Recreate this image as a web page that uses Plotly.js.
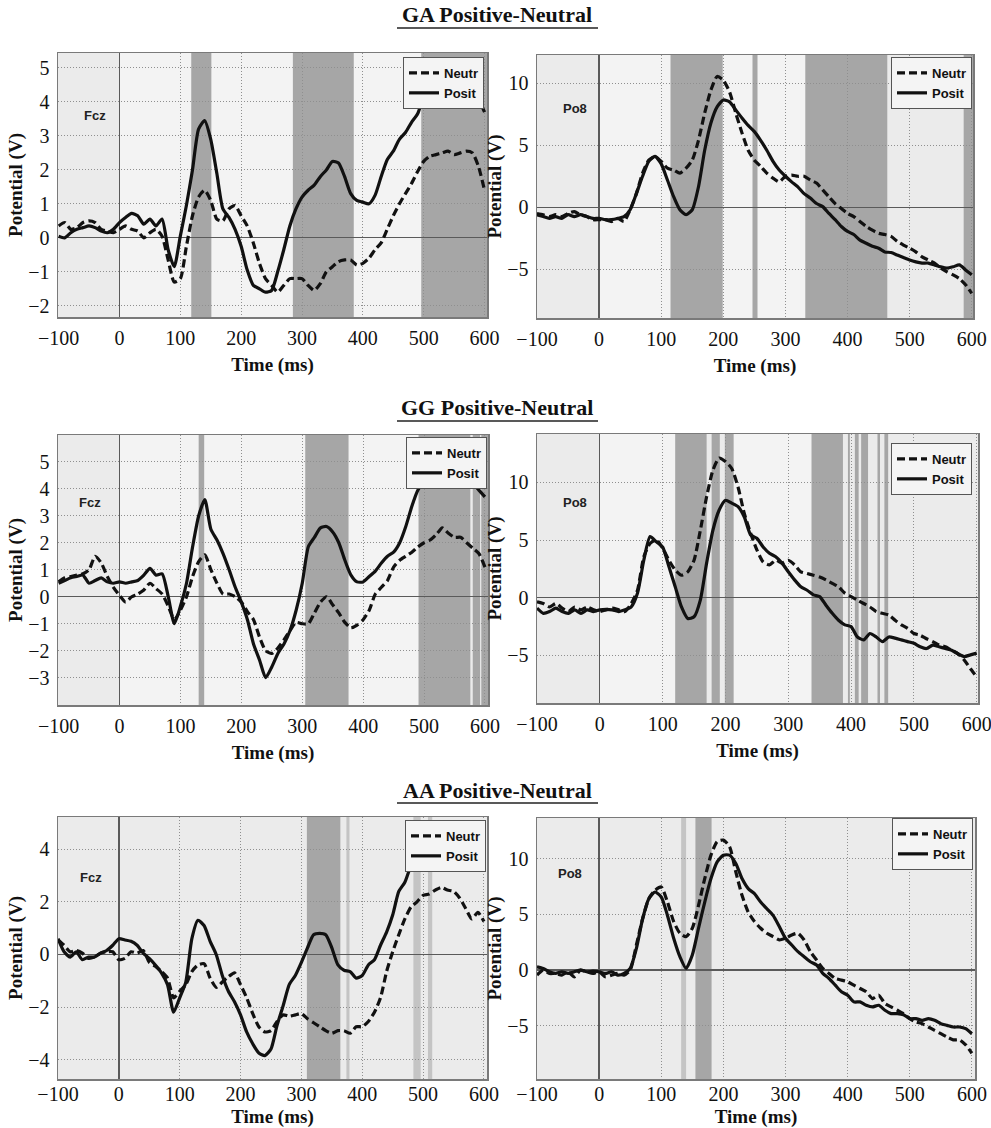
<!DOCTYPE html>
<html>
<head>
<meta charset="utf-8">
<script src="https://cdn.plot.ly/plotly-3.0.1.min.js"></script>
<style>html,body{margin:0;padding:0;background:#fff;}#chart{width:991px;height:1128px;}</style>
</head>
<body>
<div id="chart"></div>
<script>
// ---------------- DATA ----------------
const timeMs = [-100,-90,-80,-70,-60,-50,-40,-30,-20,-10,0,10,20,30,40,50,60,70,80,90,100,110,120,130,140,150,160,170,180,190,200,210,220,230,240,250,260,270,280,290,300,310,320,330,340,350,360,370,380,390,400,410,420,430,440,450,460,470,480,490,500,510,520,530,540,550,560,570,580,590,600];

const sectionTitles = ["GA Positive-Neutral", "GG Positive-Neutral", "AA Positive-Neutral"];
const channelNames = ["Fcz", "Po8", "Fcz", "Po8", "Fcz", "Po8"];
const seriesNames = ["Neutr", "Posit"];
const xTickVals = [-100,0,100,200,300,400,500,600];

// GA – Fcz
const gaFczNeutr = [0.35,0.45,0.25,0.3,0.45,0.5,0.45,0.25,0.2,0.15,0.25,0.35,0.25,0.2,0,0.15,0.25,0.05,-0.65,-1.3,-1.2,-0.25,0.65,1.2,1.4,1.1,0.55,0.5,0.85,0.95,0.65,0.35,-0.15,-0.75,-1.2,-1.4,-1.6,-1.4,-1.2,-1.2,-1.2,-1.4,-1.55,-1.35,-1.0,-0.85,-0.7,-0.65,-0.65,-0.8,-0.75,-0.6,-0.35,-0.15,0.25,0.65,1.0,1.3,1.6,1.95,2.25,2.4,2.45,2.5,2.55,2.45,2.5,2.55,2.5,2.1,1.4];
const gaFczPosit = [0.05,0,0.15,0.25,0.3,0.35,0.3,0.2,0.15,0.25,0.45,0.6,0.72,0.65,0.4,0.55,0.35,0.55,-0.35,-0.85,0.05,0.95,2.0,3.2,3.45,2.9,1.9,0.85,0.6,0.25,-0.25,-0.95,-1.4,-1.5,-1.6,-1.55,-1.0,-0.35,0.35,0.85,1.2,1.4,1.55,1.8,2.0,2.25,2.2,1.8,1.3,1.1,1.05,1.0,1.25,1.8,2.3,2.55,2.9,3.1,3.4,3.65,4.15,4.45,4.7,4.9,5.0,5.0,4.9,4.8,4.5,4.1,3.7];
// GA – Po8
const gaPo8Neutr = [-0.5,-0.6,-0.75,-0.6,-0.75,-0.5,-0.35,-0.6,-0.75,-1.0,-1.0,-1.0,-1.15,-0.9,-1.15,-0.2,1.1,2.75,3.8,4.1,3.7,3.15,3.0,2.75,3.15,3.8,5.4,7.6,9.45,10.55,10.25,9.3,7.6,6.0,4.6,3.8,3.3,2.75,2.35,2.05,2.5,2.6,2.5,2.5,2.2,1.95,1.4,0.85,0.3,-0.1,-0.5,-0.75,-1.15,-1.55,-1.85,-2.1,-2.2,-2.35,-2.75,-3.05,-3.3,-3.6,-4.0,-4.25,-4.5,-4.9,-5.2,-5.45,-5.75,-6.25,-6.95];
const gaPo8Posit = [-0.6,-0.75,-0.9,-0.75,-0.9,-0.6,-0.75,-0.6,-0.75,-0.9,-0.9,-1.0,-1.0,-0.9,-0.75,-0.2,1.1,2.5,3.7,4.1,3.5,2.2,0.85,-0.2,-0.6,-0.2,1.65,4.6,6.8,8.1,8.65,8.5,7.85,7.2,6.6,6.1,5.4,4.6,3.7,3.0,2.5,2.05,1.65,1.1,0.75,0.3,0.05,-0.5,-1.0,-1.55,-1.95,-2.2,-2.65,-2.9,-3.15,-3.3,-3.6,-3.65,-3.85,-4.05,-4.25,-4.4,-4.5,-4.5,-4.65,-4.8,-4.9,-4.8,-4.65,-5.05,-5.45];
// GG – Fcz
const ggFczNeutr = [0.55,0.7,0.75,0.8,0.85,1.0,1.5,1.25,0.75,0.35,0.05,-0.2,0,0.1,0.25,0.5,0.3,0.1,-0.35,-0.85,-0.5,0,0.75,1.3,1.55,1.0,0.5,0.1,0.1,0,-0.2,-0.55,-0.85,-1.5,-2.0,-2.1,-1.9,-1.6,-1.25,-0.95,-1.0,-1.0,-0.6,-0.2,0,-0.3,-0.6,-0.95,-1.15,-1.05,-0.85,-0.5,0.1,0.35,0.6,1.1,1.35,1.5,1.65,1.85,2.0,2.1,2.3,2.55,2.35,2.2,2.2,2.0,1.8,1.6,1.1];
const ggFczPosit = [0.5,0.6,0.7,0.75,0.8,0.5,0.6,0.7,0.55,0.5,0.55,0.5,0.55,0.6,0.8,1.05,0.8,0.85,0,-1.0,-0.35,0.5,1.85,3.0,3.6,2.5,2.1,1.6,1.0,0.35,-0.2,-0.85,-1.75,-2.35,-3.0,-2.6,-2.1,-1.75,-1.25,-0.5,0.5,1.85,2.2,2.55,2.6,2.4,2.0,1.35,0.8,0.55,0.55,0.75,0.95,1.25,1.5,1.65,2.0,2.6,3.35,3.95,4.25,4.3,4.3,4.45,4.6,4.7,4.6,4.5,4.2,3.95,3.7];
// GG – Po8
const ggPo8Neutr = [-0.35,-0.5,-0.8,-0.5,-0.9,-1.2,-0.8,-1.05,-0.8,-1.05,-1.2,-1.05,-0.9,-1.05,-1.2,-0.5,0.65,3.55,4.7,5.0,4.3,3.25,2.4,1.95,2.25,3.25,5.85,8.75,11.05,12.1,11.8,11.2,9.6,7.3,5.6,4.15,3.1,2.85,3.25,3.0,3.25,2.85,2.25,2.1,1.95,1.8,1.55,1.25,0.95,0.4,0.1,-0.2,-0.5,-0.8,-1.2,-1.35,-1.5,-1.95,-2.35,-2.65,-3.1,-3.25,-3.55,-3.8,-4.1,-4.25,-4.55,-4.85,-5.4,-6.15,-6.85];
const ggPo8Posit = [-0.9,-1.35,-1.2,-0.9,-1.2,-1.35,-1.05,-1.35,-1.05,-1.2,-1.05,-1.0,-1.05,-1.2,-1.05,-0.8,0.4,3.25,5.3,4.85,4.4,2.7,0.95,-0.8,-1.8,-1.65,-0.2,3.0,5.85,7.6,8.45,8.2,7.9,7.0,5.45,5.15,4.4,3.85,3.55,3.0,2.25,1.55,0.95,0.65,0.25,0.1,-0.65,-1.35,-1.95,-2.35,-2.5,-3.4,-3.65,-3.1,-3.4,-3.8,-3.4,-3.5,-3.65,-3.8,-3.95,-4.25,-4.4,-4.1,-4.25,-4.4,-4.55,-4.85,-5.1,-4.95,-4.8];
// AA – Fcz
const aaFczNeutr = [0.55,0.35,0.1,0.15,0.05,-0.15,-0.1,0.05,0.1,0.1,-0.2,-0.15,0.1,0.05,0.15,-0.3,-0.45,-0.65,-0.9,-1.65,-1.4,-1.15,-0.65,-0.4,-0.35,-0.9,-1.25,-1.05,-0.85,-0.7,-1.15,-1.65,-2.25,-2.75,-2.95,-2.9,-2.55,-2.3,-2.35,-2.3,-2.25,-2.45,-2.6,-2.75,-2.9,-3.0,-2.9,-2.9,-3.0,-2.75,-2.75,-2.55,-2.2,-1.65,-0.65,0.1,0.75,1.35,1.8,2.0,2.25,2.3,2.45,2.55,2.45,2.4,2.15,1.75,1.35,1.6,1.25];
const aaFczPosit = [0.6,0.1,-0.1,0.1,-0.2,-0.1,-0.1,0.05,0.15,0.35,0.6,0.55,0.5,0.35,0.05,-0.15,-0.4,-0.7,-1.15,-2.2,-1.65,-1.05,0.6,1.3,1.1,0.5,0,-0.8,-1.4,-1.8,-2.3,-2.95,-3.4,-3.75,-3.85,-3.6,-2.7,-1.95,-1.15,-0.8,-0.3,0.25,0.75,0.8,0.75,0.25,-0.4,-0.6,-0.65,-0.9,-0.8,-0.4,-0.2,0.35,0.85,1.5,2.4,2.75,3.4,4.0,4.4,4.65,4.8,4.85,4.8,4.6,4.3,3.8,3.35,3.25,3.2];
// AA – Po8
const aaPo8Neutr = [-0.45,0,-0.3,-0.3,-0.45,-0.15,-0.6,0,-0.15,-0.3,-0.15,-0.6,-0.45,-0.3,-0.45,0,2.25,4.6,6.4,7.15,7.45,6.1,4.35,3.3,3.0,3.75,5.8,8.2,10.3,11.5,11.65,11.05,8.8,6.7,5.2,4.35,3.75,3.3,3.0,2.7,2.85,3.15,3.3,2.7,1.65,0.9,0.15,-0.3,-0.75,-0.9,-1.05,-1.35,-1.65,-1.95,-2.55,-2.25,-3.0,-3.3,-3.6,-3.9,-4.35,-4.65,-4.8,-5.1,-5.4,-5.7,-6.0,-6.25,-6.25,-6.7,-7.45];
const aaPo8Posit = [0.3,0.15,-0.15,-0.3,-0.15,-0.3,-0.15,0,-0.15,-0.1,-0.15,-0.3,-0.15,-0.45,-0.3,0.15,1.95,4.6,6.4,7.0,6.55,4.9,2.85,1.2,0.15,1.35,3.75,6.1,8.2,9.7,10.3,10.3,9.55,8.2,7.3,6.85,6.1,5.5,4.9,3.9,2.85,2.25,1.65,1.2,0.75,0.45,-0.3,-0.75,-1.35,-1.95,-2.25,-2.85,-2.85,-3.15,-3.3,-3.15,-3.6,-3.9,-3.9,-4.0,-4.35,-4.35,-4.5,-4.35,-4.5,-4.8,-4.95,-5.1,-5.1,-5.25,-5.7];

// significance windows (ms): dark = significant, light = lighter background windows, mid = narrow mid-grey windows
const darkWindows = [
  [[118,151],[285,385],[496,604]],
  [[115,199],[247,255],[332,464],[587,602]],
  [[130,139],[305,376],[491,576],[580,592],[594,605]],
  [[120,170],[178,191],[199,213],[337,387],[395,398],[406,412],[416,427],[442,446],[453,459]],
  [[309,364]],
  [[155,181]]
];
const midWindows = [
  [], [], [], [],
  [[374,379],[484,496],[508,515]],
  [[132,140]]
];
const lightWindows = [
  [[0,118],[151,285],[385,496]],
  [[0,115],[199,247],[255,332]],
  [[0,130],[139,305],[376,491]],
  [[0,120],[213,337]],
  [], []
];
const yRanges = [[-2.33,5.44],[-8.93,12.28],[-4.01,5.99],[-9.12,14.19],[-4.74,5.23],[-9.76,13.63]];
const xRanges = [[-101,604],[-100,602],[-101,605],[-100,602],[-100,605],[-100,605]];
const yTickSets = [[-2,-1,0,1,2,3,4,5],[-5,0,5,10],[-3,-2,-1,0,1,2,3,4,5],[-5,0,5,10],[-4,-2,0,2,4],[-5,0,5,10]];

// ---------------- LAYOUT GEOMETRY (pixels) ----------------
const W = 991, H = 1128;
const boxes = [ // [left, right, top, bottom]
  [58,487,53,317],[537,973,55,318],
  [58,488,435,705],[537,978,434,703],
  [58,487,817,1079],[537,975,818,1079]
];
const legendPos = [[484,57],[972,57],[487,437],[972,443],[486,820],[973,818]];
const chanPos = [[95,116],[575,109],[90,502],[575,502],[91,877],[570,873]];
const titleY = [14,408,790];
const underlineY = [28,421,803];

const serif = "Liberation Serif, DejaVu Serif, serif";
const sans = "Liberation Sans, Arial, sans-serif";

const seriesData = [
  [gaFczNeutr, gaFczPosit],[gaPo8Neutr, gaPo8Posit],
  [ggFczNeutr, ggFczPosit],[ggPo8Neutr, ggPo8Posit],
  [aaFczNeutr, aaFczPosit],[aaPo8Neutr, aaPo8Posit]
];

const traces = [];
const layout = {
  width: W, height: H,
  margin: {l:0, r:0, t:0, b:0},
  paper_bgcolor: '#ffffff',
  plot_bgcolor: '#ebebeb',
  showlegend: true,
  shapes: [], annotations: []
};

function px2x(p){ return p / W; }
function px2y(p){ return 1 - p / H; }

for (let i = 0; i < 6; i++) {
  const n = i + 1;
  const xa = n === 1 ? 'xaxis' : 'xaxis' + n;
  const ya = n === 1 ? 'yaxis' : 'yaxis' + n;
  const xr = n === 1 ? 'x' : 'x' + n;
  const yr = n === 1 ? 'y' : 'y' + n;
  const lg = n === 1 ? 'legend' : 'legend' + n;
  const b = boxes[i];
  const bottomRow = i >= 4;

  const common = {
    showgrid: true, gridcolor: '#8f8f8f', griddash: '1px,2px', gridwidth: 1,
    zeroline: true, zerolinecolor: '#5a5a5a', zerolinewidth: 1.3,
    showline: true, mirror: true, linecolor: '#7a7a7a', linewidth: 1.5,
    ticks: '', tickfont: {family: serif, size: 20, color: '#111'},
    ticklabeloverflow: 'allow',
    fixedrange: true
  };
  layout[xa] = Object.assign({}, common, {
    domain: [px2x(b[0]), px2x(b[1])], anchor: yr,
    range: xRanges[i], tickvals: xTickVals, ticklabelstandoff: bottomRow ? -4 : 2,
    title: {text: 'Time (ms)', font: {family: serif, size: 19, weight: 'bold', color: '#111'}, standoff: bottomRow ? 8 : 10}
  });
  layout[ya] = Object.assign({}, common, {
    domain: [px2y(b[3]), px2y(b[2])], anchor: xr,
    range: yRanges[i], tickvals: yTickSets[i], ticklabelstandoff: 3,
    title: {text: 'Potential (V)', font: {family: serif, size: 19, weight: 'bold', color: '#111'}, standoff: 0}
  });

  const lp = legendPos[i];
  layout[lg] = {
    x: px2x(lp[0]), y: px2y(lp[1]), xanchor: 'right', yanchor: 'top',
    xref: 'paper', yref: 'paper',
    bgcolor: '#f4f4f4', bordercolor: '#555', borderwidth: 1,
    font: {family: sans, size: 13, color: '#111', weight: 'bold'},
    tracegroupgap: 0, itemwidth: 30
  };

  const [neu, pos] = seriesData[i];
  traces.push({
    x: timeMs, y: neu, xaxis: xr, yaxis: yr, legend: lg,
    type: 'scatter', mode: 'lines', name: seriesNames[0],
    line: {color: '#111', width: 3.2, dash: '8px,4px', shape: 'spline', smoothing: 0.6},
    hoverinfo: 'skip'
  });
  traces.push({
    x: timeMs, y: pos, xaxis: xr, yaxis: yr, legend: lg,
    type: 'scatter', mode: 'lines', name: seriesNames[1],
    line: {color: '#111', width: 3.2, shape: 'spline', smoothing: 0.6},
    hoverinfo: 'skip'
  });

  const addBands = (wins, color) => wins.forEach(w => layout.shapes.push({
    type: 'rect', xref: xr, yref: yr + ' domain', x0: w[0], x1: w[1], y0: 0, y1: 1,
    fillcolor: color, line: {width: 0}, layer: 'below'
  }));
  addBands(lightWindows[i], '#f3f3f3');
  addBands(midWindows[i], '#c4c4c4');
  addBands(darkWindows[i], '#a6a6a6');

  const cp = chanPos[i];
  layout.annotations.push({
    xref: 'paper', yref: 'paper', x: px2x(cp[0]), y: px2y(cp[1]),
    xanchor: 'center', yanchor: 'middle', showarrow: false,
    text: channelNames[i], font: {family: sans, size: 13, weight: 'bold', color: '#222'}
  });
}

for (let s = 0; s < 3; s++) {
  layout.annotations.push({
    xref: 'paper', yref: 'paper', x: px2x(497), y: px2y(titleY[s]),
    xanchor: 'center', yanchor: 'middle', showarrow: false,
    text: sectionTitles[s], font: {family: serif, size: 22, weight: 'bold', color: '#111'}
  });
  layout.shapes.push({
    type: 'line', xref: 'paper', yref: 'paper',
    x0: px2x(397), x1: px2x(598), y0: px2y(underlineY[s]), y1: px2y(underlineY[s]),
    line: {color: '#222', width: 1.5}
  });
}

Plotly.newPlot('chart', traces, layout, {staticPlot: true, displayModeBar: false});
</script>
</body>
</html>
